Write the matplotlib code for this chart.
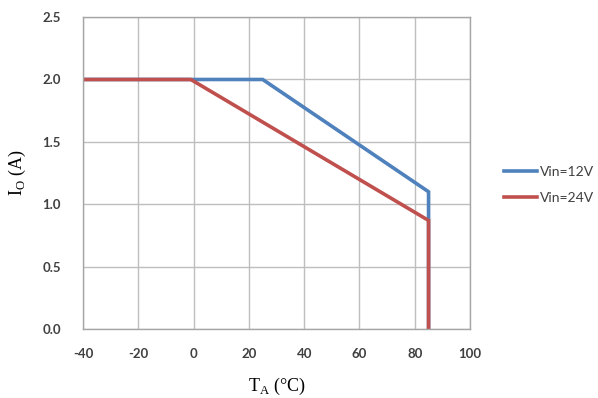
import matplotlib
matplotlib.use("Agg")
import matplotlib.pyplot as plt

# Data
temp_12v = [-40, 25, 85, 85]
curr_12v = [2.0, 2.0, 1.1, 0.0]
temp_24v = [-40, -1, 85, 85]
curr_24v = [2.0, 2.0, 0.87, 0.0]
labels = ["Vin=12V", "Vin=24V"]
xticks = [-40, -20, 0, 20, 40, 60, 80, 100]
yticks = [0.0, 0.5, 1.0, 1.5, 2.0, 2.5]

plt.rcParams['mathtext.fontset'] = 'custom'
plt.rcParams['mathtext.rm'] = 'Liberation Serif'
plt.rcParams['axes.unicode_minus'] = False

fig = plt.figure(figsize=(5.98, 3.98), dpi=100)
ax = fig.add_axes([0.1388, 0.1734, 0.786 - 0.1388, 0.957 - 0.1734])

ax.plot(temp_12v, curr_12v, color='#4F81BD', lw=2.6, label=labels[0], solid_joinstyle='miter')
ax.plot(temp_24v, curr_24v, color='#C0504D', lw=2.6, label=labels[1], solid_joinstyle='miter')

ax.set_xlim(-40, 100)
ax.set_ylim(0, 2.5)
ax.set_xticks(xticks)
ax.set_yticks(yticks)
ax.set_yticklabels([f"{v:.1f}" for v in yticks])
ax.grid(True, color='#BEBEBE', lw=1.0)
ax.set_axisbelow(True)
for s in ax.spines.values():
    s.set_color('#A6A6A6')
    s.set_linewidth(1.0)
ax.tick_params(length=0, labelsize=9.5, colors='#404040')
ax.tick_params(axis='x', pad=14)
ax.tick_params(axis='y', pad=16)
for lbl in ax.get_xticklabels() + ax.get_yticklabels():
    lbl.set_fontfamily('Lato')
    lbl.set_fontweight('bold')

ax.set_xlabel(r'T$_\mathrm{A}$ (°C)', fontfamily='Liberation Serif', fontsize=13, labelpad=11)
ax.set_ylabel(r'I$_\mathrm{O}$ (A)', fontfamily='Liberation Serif', fontsize=13, labelpad=10)

leg = fig.legend(loc='center left', bbox_to_anchor=(0.843, 0.535), frameon=False,
                 handlelength=2.4, handletextpad=0.2, labelspacing=1.0,
                 borderpad=0.0, borderaxespad=0.0,
                 prop={'family': 'Lato', 'size': 10})
for t in leg.get_texts():
    t.set_color('#404040')

fig.savefig('out.png', dpi=100)
